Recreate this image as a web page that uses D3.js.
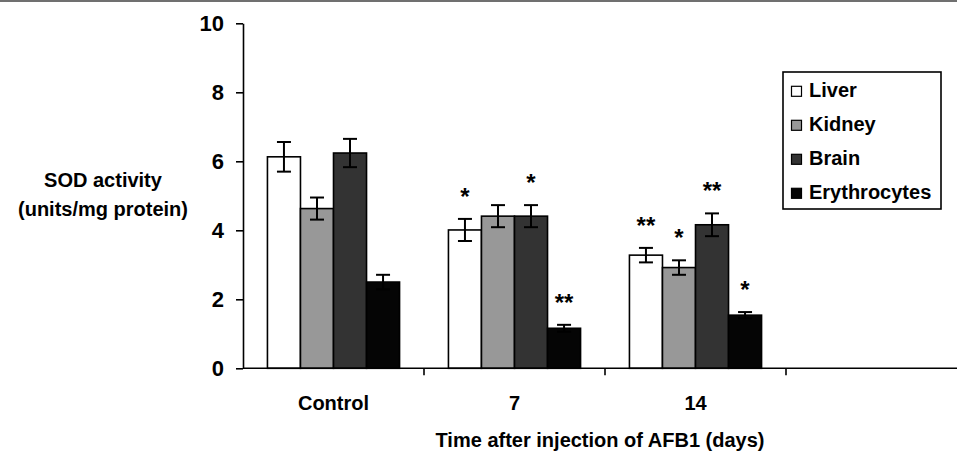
<!DOCTYPE html>
<html lang="en">
  <head>
    <meta charset="UTF-8" />
    <script src="https://d3js.org/d3.v7.min.js"></script>
    <title>SOD activity</title>
    <style>
      body { margin: 0; background: #fff; }
      svg { display: block; font-family: "Liberation Sans", Arial, sans-serif; font-weight: bold; }
    </style>
  </head>
  <body>
    <svg width="957" height="454"></svg>
    <script>
      // groups on the x axis
      const categories = ["Control", "7", "14"];
      // tissues (one bar each per group)
      const series = ["Liver", "Kidney", "Brain", "Erythrocytes"];
      const colors = ["#ffffff", "#989898", "#333333", "#050505"];

      // SOD activity, units/mg protein
      const liver = [6.13, 4.01, 3.28];
      const kidney = [4.63, 4.41, 2.92];
      const brain = [6.24, 4.41, 4.16];
      const erythrocytes = [2.5, 1.16, 1.54];

      // error bars (+/-)
      const liverErr = [0.43, 0.32, 0.21];
      const kidneyErr = [0.32, 0.32, 0.21];
      const brainErr = [0.41, 0.32, 0.33];
      const erythrocytesErr = [0.21, 0.1, 0.09];

      // significance marks
      const liverSig = ["", "*", "**"];
      const kidneySig = ["", "", "*"];
      const brainSig = ["", "*", "**"];
      const erythrocytesSig = ["", "**", "*"];

      const yTicks = [0, 2, 4, 6, 8, 10];

      const values = [liver, kidney, brain, erythrocytes];
      const errs = [liverErr, kidneyErr, brainErr, erythrocytesErr];
      const sigs = [liverSig, kidneySig, brainSig, erythrocytesSig];

      const rows = [];
      categories.forEach((c, ci) => {
        series.forEach((s, si) => {
          rows.push({ cat: c, s: s, si: si, v: values[si][ci], e: errs[si][ci], sig: sigs[si][ci] });
        });
      });

      const svg = d3.select("svg");
      const W = 957;

      // thin grey rule along the top edge
      svg.append("rect").attr("x", 0).attr("y", 0).attr("width", W).attr("height", 2).attr("fill", "#707070");

      const x0 = d3.scaleBand().domain(categories).range([243, 243 + 181 * 3]);
      const x1 = d3.scaleBand().domain(series).range([0, x0.bandwidth()]).paddingInner(0).paddingOuter(0.74);
      const y = d3.scaleLinear().domain([0, 10]).range([368.3, 23.3]);

      // y axis
      const yAxis = svg.append("g")
        .attr("transform", "translate(243,0)")
        .call(d3.axisLeft(y).tickValues(yTicks).tickSize(7).tickSizeOuter(0).tickPadding(12));
      yAxis.select(".domain").attr("stroke", "#000").attr("stroke-width", 1.6);
      yAxis.selectAll(".tick line").attr("stroke", "#000").attr("stroke-width", 1.6);
      yAxis.selectAll(".tick text")
        .attr("fill", "#000")
        .style("font-size", "22px")
        .style("font-weight", "bold")
        .style("font-family", "'Liberation Sans', Arial, sans-serif");

      // bars
      const groups = svg.append("g")
        .selectAll("g")
        .data(rows)
        .enter()
        .append("g")
        .attr("transform", (d) => `translate(${x0(d.cat) + x1(d.s)},0)`);

      groups.append("rect")
        .attr("x", 0)
        .attr("y", (d) => y(d.v))
        .attr("width", x1.bandwidth())
        .attr("height", (d) => y(0) - y(d.v))
        .attr("fill", (d) => colors[d.si])
        .attr("stroke", "#000")
        .attr("stroke-width", 1.6);

      // error bars
      const cx = x1.bandwidth() / 2;
      groups.append("line")
        .attr("x1", cx).attr("x2", cx)
        .attr("y1", (d) => y(d.v + d.e))
        .attr("y2", (d) => y(d.v - d.e))
        .attr("stroke", "#000").attr("stroke-width", 2);
      groups.append("line")
        .attr("x1", cx - 7).attr("x2", cx + 7)
        .attr("y1", (d) => y(d.v + d.e)).attr("y2", (d) => y(d.v + d.e))
        .attr("stroke", "#000").attr("stroke-width", 2);
      groups.append("line")
        .attr("x1", cx - 7).attr("x2", cx + 7)
        .attr("y1", (d) => y(d.v - d.e)).attr("y2", (d) => y(d.v - d.e))
        .attr("stroke", "#000").attr("stroke-width", 2);

      // asterisks
      groups.filter((d) => d.sig)
        .append("text")
        .attr("x", cx)
        .attr("y", (d) => y(d.v + d.e) - 14)
        .attr("text-anchor", "middle")
        .style("font-size", "24px")
        .text((d) => d.sig);

      // x axis line + group separators
      svg.append("line")
        .attr("x1", 243).attr("x2", W)
        .attr("y1", y(0)).attr("y2", y(0))
        .attr("stroke", "#000").attr("stroke-width", 1.6);
      svg.append("g")
        .selectAll("line")
        .data(categories)
        .enter()
        .append("line")
        .attr("x1", (d) => x0(d) + x0.bandwidth())
        .attr("x2", (d) => x0(d) + x0.bandwidth())
        .attr("y1", y(0)).attr("y2", y(0) + 7)
        .attr("stroke", "#000").attr("stroke-width", 1.6);

      svg.append("g")
        .selectAll("text")
        .data(categories)
        .enter()
        .append("text")
        .attr("x", (d) => x0(d) + x0.bandwidth() / 2)
        .attr("y", 410)
        .attr("text-anchor", "middle")
        .style("font-size", "20px")
        .text((d) => d);

      // axis titles
      svg.append("text")
        .attr("x", 600).attr("y", 447)
        .attr("text-anchor", "middle")
        .style("font-size", "20px")
        .text("Time after injection of AFB1 (days)");

      const yt = svg.append("text")
        .attr("text-anchor", "middle")
        .style("font-size", "20px");
      yt.append("tspan").attr("x", 103).attr("y", 187).text("SOD activity");
      yt.append("tspan").attr("x", 103).attr("y", 216).text("(units/mg protein)");

      // legend
      const legend = svg.append("g");
      legend.append("rect")
        .attr("x", 783).attr("y", 72)
        .attr("width", 158).attr("height", 137)
        .attr("fill", "#fff").attr("stroke", "#000").attr("stroke-width", 1.6);
      const items = legend.selectAll("g.item")
        .data(series)
        .enter()
        .append("g")
        .attr("class", "item")
        .attr("transform", (d, i) => `translate(0,${97.3 + i * 34})`);
      items.append("rect")
        .attr("x", 791.5).attr("y", -11)
        .attr("width", 10).attr("height", 10)
        .attr("fill", (d, i) => colors[i])
        .attr("stroke", "#000").attr("stroke-width", 1.2);
      items.append("text")
        .attr("x", 809)
        .attr("y", 0)
        .style("font-size", "20px")
        .text((d) => d);
    </script>
  </body>
</html>
